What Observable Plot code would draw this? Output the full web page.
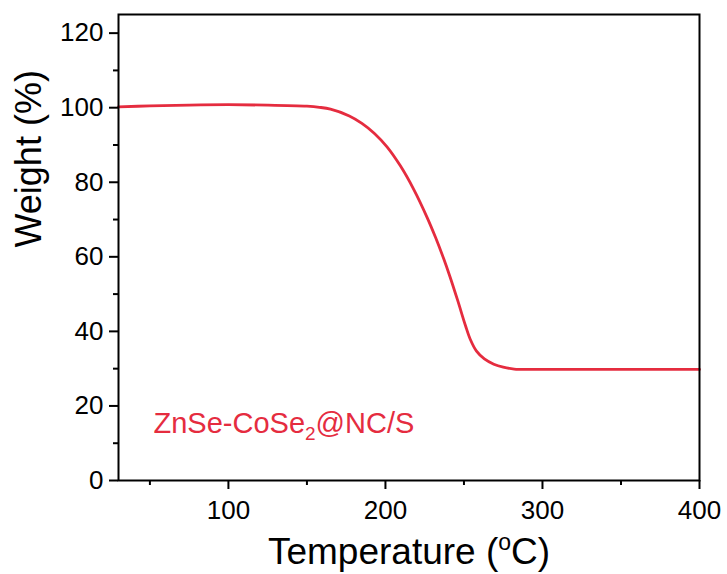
<!DOCTYPE html>
<html>
<head>
<meta charset="utf-8">
<script src="https://cdn.jsdelivr.net/npm/d3@7"></script>
<script src="https://cdn.jsdelivr.net/npm/@observablehq/plot@0.6"></script>
<style>
  html, body { margin: 0; padding: 0; background: #fff; }
  #chart { width: 727px; height: 574px; }
</style>
</head>
<body>
<div id="chart"></div>
<script>
// Temperature (°C) and weight (%)
const temps   = [30, 50, 75, 100, 125, 150, 158, 165, 177, 185, 193, 201, 209.5, 218, 226.5, 232, 237, 241, 246, 251, 254, 258, 263, 269, 275, 282, 292, 320, 360, 400];
const weights = [100.2, 100.5, 100.7, 100.8, 100.7, 100.4, 100.1, 99.6, 97.8, 95.8, 93.1, 89.5, 84.4, 78.1, 70.6, 65.1, 59.6, 54.8, 48.3, 41.5, 37.9, 34.7, 32.6, 31.2, 30.4, 29.9, 29.8, 29.8, 29.8, 29.8];

const xTicks = [100, 200, 300, 400];
const xMinorTicks = [50, 150, 250, 350];
const yTicks = [0, 20, 40, 60, 80, 100, 120];
const yMinorTicks = [10, 30, 50, 70, 90, 110];

const xTitle = "Temperature (oC)";
const yTitle = "Weight (%)";
const seriesName = "ZnSe-CoSe2@NC/S";

const data = temps.map((t, i) => ({t, w: weights[i]}));
const red = "#e52c3f";

const chart = Plot.plot({
  width: 727,
  height: 574,
  marginLeft: 118,
  marginRight: 28,
  marginTop: 14,
  marginBottom: 94,
  style: {fontFamily: "'Liberation Sans', Arial, sans-serif", fontSize: "26px", color: "#000", background: "#fff"},
  x: {domain: [30, 400]},
  y: {domain: [0, 125]},
  marks: [
    Plot.line(data, {x: "t", y: "w", stroke: red, strokeWidth: 2.8, curve: "catmull-rom"}),
    Plot.axisX(xTicks, {tickSize: 9, tickPadding: 11, strokeWidth: 2, fontSize: 26, label: null}),
    Plot.axisX(xMinorTicks, {tickSize: 5, strokeWidth: 2, tickFormat: () => "", label: null}),
    Plot.axisY(yTicks, {tickSize: 9, tickPadding: 6, strokeWidth: 2, fontSize: 26, label: null}),
    Plot.axisY(yMinorTicks, {tickSize: 5, strokeWidth: 2, tickFormat: () => "", label: null}),
    Plot.frame({stroke: "#000", strokeWidth: 2}),
    Plot.text([xTitle], {text: d => d, frameAnchor: "bottom", dy: 83, lineAnchor: "bottom", fontSize: 37, fill: "#000"}),
    Plot.text([yTitle], {text: d => d, frameAnchor: "left", dx: -103, rotate: -90, lineAnchor: "top", fontSize: 36, fill: "#000"}),
    Plot.text([seriesName], {text: d => d, frameAnchor: "bottom-left", dx: 35, dy: -48, lineAnchor: "bottom", textAnchor: "start", fontSize: 29, fill: red})
  ]
});

// superscript / subscript formatting
d3.select(chart).selectAll("text").each(function() {
  const t = d3.select(this);
  const s = this.textContent;
  if (s === xTitle) {
    t.text("Temperature (");
    t.append("tspan").attr("font-size", 23).attr("dy", -14).text("o");
    t.append("tspan").attr("dy", 14).text("C)");
  } else if (s === seriesName) {
    t.text("ZnSe-CoSe");
    t.append("tspan").attr("font-size", 19).attr("dy", 7).text("2");
    t.append("tspan").attr("dy", -7).text("@NC/S");
  }
});

document.getElementById("chart").appendChild(chart);
</script>
</body>
</html>
